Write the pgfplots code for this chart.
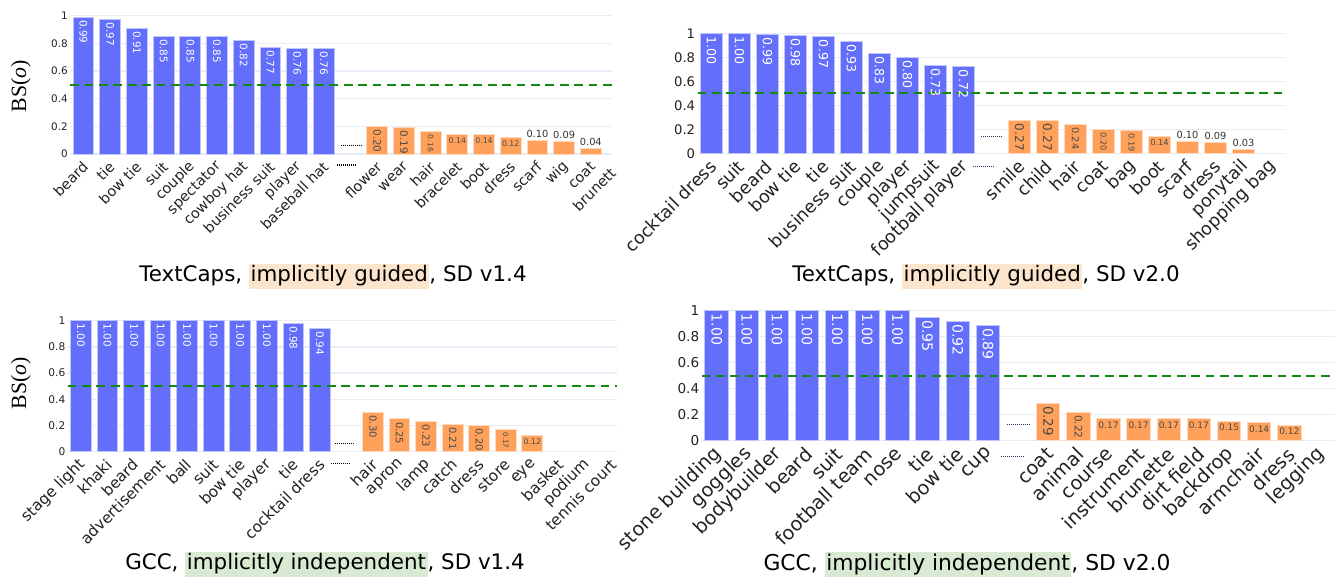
\documentclass[border=0pt]{standalone}
\usepackage{fontspec}
\setmainfont{DejaVu Sans}
\newfontfamily\serifx{Liberation Serif}
\usepackage{pgfplots}
\pgfplotsset{compat=1.18}
\definecolor{blueb}{HTML}{636EFA}
\definecolor{orangeb}{HTML}{FFA15A}
\definecolor{gridc}{HTML}{E8EDF5}
\definecolor{dgreen}{HTML}{108A10}
\definecolor{peach}{HTML}{FCE5CD}
\definecolor{lgreen}{HTML}{D9EAD3}
\definecolor{intxt}{HTML}{4A4A4A}
\definecolor{outtxt}{HTML}{333333}
\definecolor{ticktxt}{HTML}{222222}
\definecolor{dotc}{HTML}{2A3F5F}
\newcommand{\fs}[1]{\fontsize{#1}{#1}\selectfont}
\newcommand{\hl}[2]{{\setlength{\fboxsep}{0.8pt}\colorbox{#1}{\rule[-0.25em]{0pt}{1.0em}#2}}}
\pgfplotsset{
  /pgf/number format/assume math mode=true,
  panel/.style={
    anchor=south west,
    xmin=-0.5, ymin=0, ymax=1,
    axis line style={draw=none},
    tick style={draw=none},
    major tick length=0pt,
    ytick={0,0.2,0.4,0.6,0.8,1},
    yticklabels={0,0.2,0.4,0.6,0.8,1},
    ymajorgrids,
    grid style={gridc, line width=0.7pt},
    yticklabel style={anchor=east, inner sep=0pt, xshift=-1pt, text=ticktxt},
    xticklabel style={xshift=1pt, yshift=-5pt, rotate=45, anchor=east, inner sep=0pt, text=ticktxt},
    clip=false,
  },
  bluebar/.style={ybar, bar width=0.78, bar shift=0pt, fill=blueb, draw=blueb!40!white, line width=0.5pt},
  orbar/.style={ybar, bar width=0.78, bar shift=0pt, fill=orangeb, draw=orangeb!40!white, line width=0.5pt},
  vlab/.style 2 args={nodes near coords={\pgfmathprintnumber[fixed,fixed zerofill,precision=2]{\pgfplotspointmeta}},
    every node near coord/.append style={rotate=-90, anchor=west, inner sep=1.3pt, font=\fs{#1}, text=#2}},
  hlab/.style={nodes near coords={\pgfmathprintnumber[fixed,fixed zerofill,precision=2]{\pgfplotspointmeta}},
    every node near coord/.append style={anchor=north, inner sep=1.3pt, font=\fs{#1}, text=intxt}},
  olab/.style={nodes near coords={\pgfmathprintnumber[fixed,fixed zerofill,precision=2]{\pgfplotspointmeta}},
    every node near coord/.append style={anchor=south, inner sep=1.2pt, font=\fs{#1}, text=outtxt}},
  half/.style={dgreen, line width=0.8pt, dash pattern=on 4.4pt off 2.8pt},
  gapdots/.style={line width=0.6pt, dash pattern=on 0.5pt off 0.5pt},
}
\begin{document}
\begin{tikzpicture}
% ---------------- top left ----------------
\begin{axis}[panel, at={(35.08pt,212.5pt)}, x=13.35pt, y=69.15pt, xmax=19.79,
  xtick={0,...,19},
  xticklabels={beard,tie,bow tie,suit,couple,spectator,cowboy hat,business suit,player,baseball hat,{},flower,wear,hair,bracelet,boot,dress,scarf,wig,coat},
  xticklabel style={font=\fs{7.2}}, yticklabel style={font=\fs{5.2}}]
\addplot[bluebar, vlab={5.2}{white}] coordinates {(0,0.99)(1,0.97)(2,0.91)(3,0.85)(4,0.85)(5,0.85)(6,0.82)(7,0.77)(8,0.76)(9,0.76)};
\addplot[orbar, vlab={5.2}{intxt}] coordinates {(11,0.20)(12,0.19)};
\addplot[orbar, vlab={3.8}{intxt}] coordinates {(13,0.16)};
\addplot[orbar, hlab={3.9}] coordinates {(14,0.14)(15,0.14)(16,0.12)};
\addplot[orbar, olab={4.9}] coordinates {(17,0.10)(18,0.09)(19,0.04)};
\addplot[half] coordinates {(-0.5,0.5)(19.79,0.5)};
\addplot[gapdots, black] coordinates {(9.63,0.06)(10.39,0.06)};
\addplot[gapdots, black] coordinates {(9.48,-0.08)(10.2,-0.08)};
\node[rotate=45, anchor=east, inner sep=0pt, font=\fs{7.2}, text=ticktxt] at ([xshift=-2.1pt,yshift=-8.1pt]axis cs:20,0) {brunett};
\end{axis}
% ---------------- top right ----------------
\begin{axis}[panel, at={(348.75pt,212.85pt)}, x=14pt, y=60pt, xmax=20.5,
  xtick={0,...,20},
  xticklabels={cocktail dress,suit,beard,bow tie,tie,business suit,couple,player,jumpsuit,football player,{},smile,child,hair,coat,bag,boot,scarf,dress,ponytail,shopping bag},
  xticklabel style={font=\fs{8.8}}, yticklabel style={font=\fs{6.6}}]
\addplot[bluebar, vlab={6.3}{white}] coordinates {(0,1.00)(1,1.00)(2,0.99)(3,0.98)(4,0.97)(5,0.93)(6,0.83)(7,0.80)(8,0.73)(9,0.72)};
\addplot[orbar, vlab={6}{intxt}] coordinates {(11,0.27)(12,0.27)};
\addplot[orbar, vlab={4.9}{intxt}] coordinates {(13,0.24)};
\addplot[orbar, vlab={4.1}{intxt}] coordinates {(14,0.20)(15,0.19)};
\addplot[orbar, hlab={4.1}] coordinates {(16,0.14)};
\addplot[orbar, olab={4.9}] coordinates {(17,0.10)(18,0.09)(19,0.03)};
\addplot[half] coordinates {(-0.5,0.5)(20.5,0.5)};
\addplot[gapdots, dotc] coordinates {(9.61,0.14)(10.38,0.14)};
\addplot[gapdots, dotc] coordinates {(9.34,-0.112)(10.09,-0.112)};
\end{axis}
% ---------------- bottom left ----------------
\begin{axis}[panel, at={(33.85pt,63.65pt)}, x=13.275pt, y=65.5pt, xmax=20.2,
  xtick={0,...,20},
  xticklabels={stage light,khaki,beard,advertisement,ball,suit,bow tie,player,tie,cocktail dress,{},hair,apron,lamp,catch,dress,store,eye,basket,podium,tennis court},
  xticklabel style={font=\fs{7.7}}, yticklabel style={font=\fs{5.3}}]
\addplot[bluebar, vlab={5.2}{white}] coordinates {(0,1.00)(1,1.00)(2,1.00)(3,1.00)(4,1.00)(5,1.00)(6,1.00)(7,1.00)(8,0.98)(9,0.94)};
\addplot[orbar, vlab={5}{intxt}] coordinates {(11,0.30)(12,0.25)(13,0.23)(14,0.21)(15,0.20)};
\addplot[orbar, vlab={3.6}{intxt}] coordinates {(16,0.17)};
\addplot[orbar, hlab={3.9}] coordinates {(17,0.12)};
\addplot[half] coordinates {(-0.5,0.5)(20.2,0.5)};
\addplot[gapdots, black] coordinates {(9.57,0.06)(10.32,0.06)};
\addplot[gapdots, black] coordinates {(9.42,-0.0885)(10.13,-0.0885)};
\end{axis}
% ---------------- bottom right ----------------
\begin{axis}[panel, at={(350.8pt,69.15pt)}, x=15.07pt, y=65pt, xmax=20.5,
  xtick={0,...,20},
  xticklabels={stone building,goggles,bodybuilder,beard,suit,football team,nose,tie,bow tie,cup,{},coat,animal,course,instrument,brunette,dirt field,backdrop,armchair,dress,legging},
  xticklabel style={font=\fs{9.6}}, yticklabel style={font=\fs{6.8}}]
\addplot[bluebar, vlab={7.1}{white}] coordinates {(0,1.00)(1,1.00)(2,1.00)(3,1.00)(4,1.00)(5,1.00)(6,1.00)(7,0.95)(8,0.92)(9,0.89)};
\addplot[orbar, vlab={6.7}{intxt}] coordinates {(11,0.29)};
\addplot[orbar, vlab={5.2}{intxt}] coordinates {(12,0.22)};
\addplot[orbar, hlab={4.5}] coordinates {(13,0.17)(14,0.17)(15,0.17)(16,0.17)(17,0.15)(18,0.14)(19,0.12)};
\addplot[half] coordinates {(-0.5,0.5)(20.5,0.5)};
\addplot[gapdots, dotc] coordinates {(9.62,0.126)(10.36,0.126)};
\addplot[gapdots, dotc] coordinates {(9.42,-0.123)(10.21,-0.123)};
\end{axis}
% ---------------- y labels and captions ----------------
\node[rotate=90, font=\serifx\fs{10.9}] at (10.5pt,246.5pt) {BS(\textit{o})};
\node[rotate=90, font=\serifx\fs{10.9}] at (10.5pt,98pt) {BS(\textit{o})};
\node[font=\fs{10.7}, inner sep=0pt] at (166.5pt,151.25pt) {TextCaps, \hl{peach}{implicitly guided}, SD v1.4};
\node[font=\fs{10.7}, inner sep=0pt] at (493pt,151.25pt) {TextCaps, \hl{peach}{implicitly guided}, SD v2.0};
\node[font=\fs{10.7}, inner sep=0pt] at (162.5pt,7.25pt) {GCC, \hl{lgreen}{implicitly independent}, SD v1.4};
\node[font=\fs{10.9}, inner sep=0pt] at (483.5pt,7.25pt) {GCC, \hl{lgreen}{implicitly independent}, SD v2.0};
\pgfresetboundingbox
\path[use as bounding box] (0,0) rectangle (671.5pt,289.5pt);
\end{tikzpicture}
\end{document}
